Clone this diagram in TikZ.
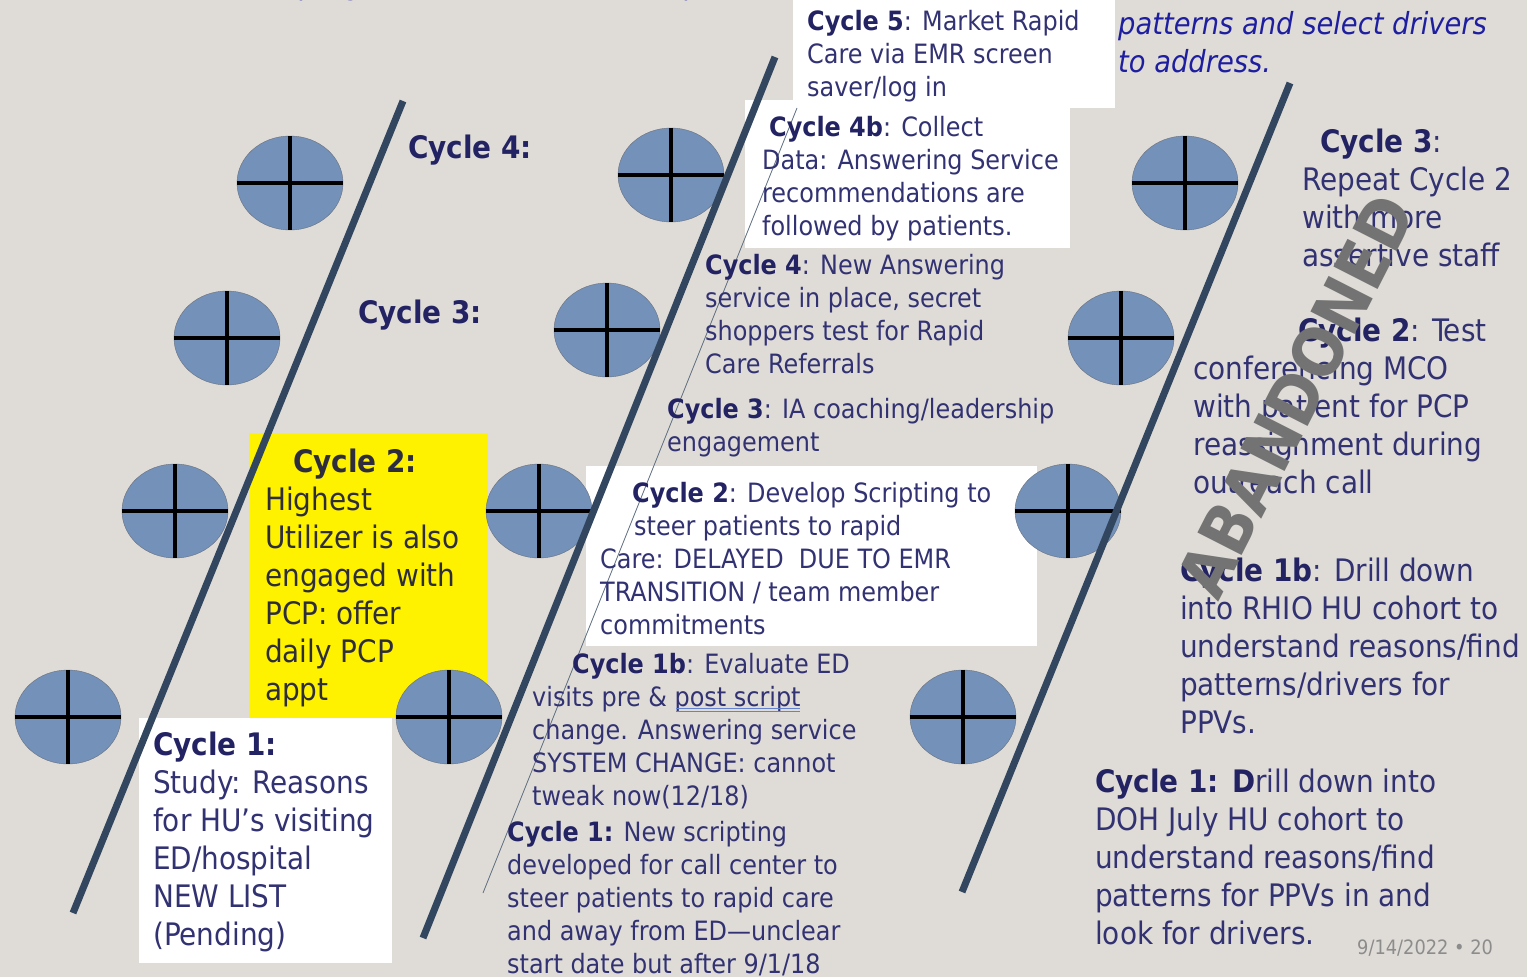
\documentclass[tikz,border=0pt]{standalone}
\usepackage{fontspec}
\setmainfont{DejaVu Sans Condensed}
\usetikzlibrary{shapes.geometric}

\definecolor{paper}{RGB}{223,220,215}
\definecolor{ink}{RGB}{50,50,115}
\definecolor{inkbold}{RGB}{35,35,100}
\definecolor{inkgrey}{RGB}{45,45,62}
\definecolor{italblue}{RGB}{30,30,160}
\definecolor{bubblefill}{RGB}{115,145,185}
\definecolor{bubbleedge}{RGB}{105,112,125}
\definecolor{spinecol}{RGB}{50,70,95}
\definecolor{squiggle}{RGB}{100,130,210}

\tikzset{
  bubble/.style={ellipse, draw=bubbleedge, fill=bubblefill, minimum width=106pt, minimum height=94pt, inner sep=0pt},
  crossbar/.style={line width=4.5pt, black},
  spineline/.style={line width=7pt, spinecol},
  thinline/.style={line width=0.8pt, spinecol!80},
  midtxt/.style={anchor=north west, inner sep=0pt, align=left, text=ink, font=\fontsize{26.6}{33}\selectfont},
  bigtxt/.style={anchor=north west, inner sep=0pt, align=left, text=ink, font=\fontsize{31}{38}\selectfont},
  toptxt/.style={bigtxt, text=italblue, font=\fontsize{30.4}{38}\selectfont\itshape},
}
\newcommand{\cyc}[1]{\textbf{\color{inkbold}#1}}

\begin{document}
\begin{tikzpicture}[x=1pt,y=-1pt]
    \useasboundingbox (0,0) rectangle (1527,977);
    \clip (0,0) rectangle (1527,977);
    \fill[paper] (0,0) rectangle (1527,977);

    % Boxes behind the text
    \fill[white] (793,0) rectangle (1115,108);
    \fill[white] (745,100) rectangle (1070,248);
    \fill[white] (586,466) rectangle (1037,646);
    \fill[yellow] (249,433) rectangle (488,718);
    \fill[white] (139,718) rectangle (392,963);

    % Bubbles with crosses
    \foreach \n/\cx/\cy in {a1/290/183, a2/227/338, a3/175/511, a4/68/717,
                            b1/671/175, b2/607/330, b3/539/511, b4/449/717,
                            c1/1185/183, c2/1121/338, c3/1068/511, c4/963/717} {
        \node[bubble] (\n) at (\cx,\cy) {};
        \draw[crossbar] (\n.west) -- (\n.east) (\n.north) -- (\n.south);
    }

    % Spines
    \draw[spineline] (403,101) -- (73,913);
    \draw[spineline] (775,57) -- (423,938);
    \draw[spineline] (1290,83) -- (962,892);
    \draw[thinline] (797,108) -- (483,893);

    % Top lines, cut off
    \node[toptxt] (topleft) at (243,-29) {PAs program)};
    \node[toptxt] (topmid) at (668,-29) {open hours};
    \node[toptxt] (topright) at (1118,-27) {visits (PPV) to observe\\patterns and select drivers\\to address.};
    \fill[white] (793,0) rectangle (1115,8);

    % Left column
    \node[bigtxt, font=\fontsize{31}{38}\selectfont\bfseries, text=inkbold] (left4) at (408,135) {Cycle 4:};
    \node[bigtxt, font=\fontsize{31}{38}\selectfont\bfseries, text=inkbold] (left3) at (358,300) {Cycle 3:};
    \node[bigtxt, text=inkgrey] (left2) at (265,449) {\hspace*{28pt}\textbf{Cycle 2:}\\Highest\\Utilizer is also\\engaged with\\PCP: offer\\daily PCP\\appt};
    \node[bigtxt] (left1) at (153,732) {\cyc{Cycle 1:}\\Study: Reasons\\for HU’s visiting\\ED/hospital\\NEW LIST\\(Pending)};

    % Middle column
    \node[midtxt] (mid5) at (807,10) {\cyc{Cycle 5}: Market Rapid\\Care via EMR screen\\saver/log in};
    \node[midtxt] (mid4b) at (762,116) {\hspace*{7pt}\cyc{Cycle 4b}: Collect\\Data: Answering Service\\recommendations are\\followed by patients.};
    \node[midtxt] (mid4) at (705,254) {\cyc{Cycle 4}: New Answering\\service in place, secret\\shoppers test for Rapid\\Care Referrals};
    \node[midtxt] (mid3) at (667,398) {\cyc{Cycle 3}: IA coaching/leadership\\engagement};
    \node[midtxt] (mid2) at (600,482) {\hspace*{32pt}\cyc{Cycle 2}: Develop Scripting to\\\hspace*{34pt}steer patients to rapid\\Care: DELAYED\ \ DUE TO EMR\\TRANSITION / team member\\commitments};
    \node[midtxt] (mid1b) at (532,653) {\hspace*{40pt}\cyc{Cycle 1b}: Evaluate ED\\visits pre \& post script\\change. Answering service\\SYSTEM CHANGE: cannot\\tweak now(12/18)};
    \node[midtxt] (mid1) at (507,821) {\cyc{Cycle 1:} New scripting\\developed for call center to\\steer patients to rapid care\\and away from ED—unclear\\start date but after 9/1/18};
    \draw[squiggle, line width=0.8pt] (676,708) -- (800,708) (676,711) -- (800,711);

    % Right column
    \node[bigtxt] (right3) at (1302,129) {\hspace*{18pt}\cyc{Cycle 3}:\\Repeat Cycle 2\\with more\\assertive staff};
    \node[bigtxt] (right2) at (1193,318) {\hspace*{105pt}\cyc{Cycle 2}: Test\\conferencing MCO\\with patient for PCP\\reassignment during\\outreach call};
    \node[bigtxt] (right1b) at (1180,558) {\cyc{Cycle 1b}: Drill down\\into RHIO HU cohort to\\understand reasons/find\\patterns/drivers for\\PPVs.};
    \node[bigtxt] (right1) at (1095,769) {\cyc{Cycle 1: D}rill down into\\DOH July HU cohort to\\understand reasons/find\\patterns for PPVs in and\\look for drivers.};

    % Stamp and footer
    \node[rotate=63, text=black!55, font=\fontsize{68}{68}\selectfont\bfseries, inner sep=0pt] (abandoned) at (1296,396) {ABANDONED};
    \node[anchor=west, inner sep=0pt, text=black!45, font=\fontsize{19.8}{22}\selectfont] (pagenum) at (1357,948) {9/14/2022 • 20};
\end{tikzpicture}
\end{document}
